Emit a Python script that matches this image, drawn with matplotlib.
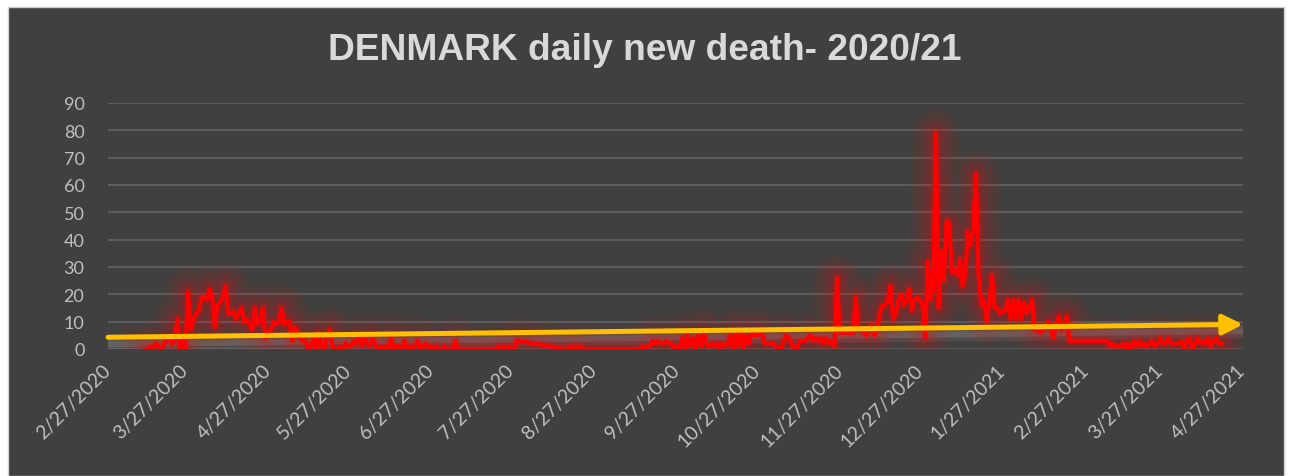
import numpy as np
import pandas as pd
import matplotlib
matplotlib.use('Agg')
import matplotlib.pyplot as plt
from matplotlib.patches import Rectangle
from matplotlib.transforms import offset_copy

# daily new deaths, first block starts 2020-03-12
block1_start = '2020-03-12'
block1_deaths = [0, 0, 1, 0, 2, 1, 0, 2, 3, 4, 2, 3,
                 11, 0, 3, 0, 21, 7, 11, 13, 14, 19, 19, 18, 22, 19,
                 8, 16, 17, 19, 23, 13, 13, 14, 11, 13, 15, 10, 11, 9,
                 7, 15, 9, 10, 15, 4, 6, 7, 10, 9, 10, 15, 9, 10,
                 10, 3, 8, 6, 4, 3, 3, 0, 1, 4, 0, 6, 1, 0, 5, 7, 1, 0,
                 0, 1, 0, 2, 1, 1, 3, 2, 4, 1, 4, 2, 1, 4, 2, 0, 1,
                 0, 1, 0, 4, 0, 1, 1, 0, 3, 0, 1, 0, 1, 3, 0, 1, 2, 0, 1, 0, 1, 0, 0, 1, 0, 0, 0, 3,
                 0, 0, 0, 0, 0, 0, 0, 0, 0, 0, 0, 0, 0, 0, 0,
                 1, 0, 1, 0, 1, 0, 0, 3, 3]

# second block (after the gap) starts 2020-08-16
block2_start = '2020-08-16'
block2_deaths = [0, 0, 1, 0, 1, 0, 1, 0] + [0] * 20 + \
                [0, 1, 0, 1, 1, 3, 2, 3, 2, 2, 3, 2, 2, 0, 1, 0, 4, 0, 5, 1,
                 4, 0, 5, 1, 6, 2, 1, 2, 1, 2, 0, 2, 1, 2, 5, 0, 6, 1, 6, 0,
                 5, 2, 6, 5, 5, 6, 5, 2, 2, 2, 2, 1, 0, 0,
                 3, 5, 4, 2, 0, 0, 3, 3, 3, 4, 5, 3, 4, 3,
                 4, 2, 4, 2, 3, 1, 26,
                 6, 6, 6, 6, 6, 6, 19, 7, 7, 6, 5, 7, 9, 5, 7,
                 13, 16, 16, 18, 23, 11, 13, 18, 20, 16, 18, 22, 14, 18, 19, 18, 16, 4, 32, 18, 22, 79,
                 15, 36, 25, 47, 46, 28, 29, 27, 33, 23, 27, 43, 38, 44, 64, 27, 16, 18, 10, 17, 27,
                 15, 15, 13, 14, 14, 18, 11, 18, 11, 18, 11, 17, 13, 15, 18, 7, 7, 6, 7, 8, 10, 7, 4, 9, 12, 7, 9, 12] + \
                [3] * 15 + \
                [1, 2, 1, 1, 1, 2, 0, 2, 0, 3, 1, 3, 1, 2, 1, 2, 3, 1, 2, 4, 2, 2, 4, 2, 2,
                 2, 2, 3, 0, 3, 4, 0, 2, 4, 2, 3, 2, 4, 1, 3, 4, 2, 2]

trend_dates = ['2020-02-27', '2021-04-27']
trend_values = [4.3, 9.0]

tick_dates = pd.date_range('2020-02-27', '2021-04-27', freq=pd.DateOffset(months=1))
tick_labels = [f'{d.month}/{d.day}/{d.year}' for d in tick_dates]
y_ticks = list(range(0, 100, 10))

dates = list(pd.date_range(block1_start, periods=len(block1_deaths))) + \
        list(pd.date_range(block2_start, periods=len(block2_deaths)))
deaths = block1_deaths + block2_deaths
trend_x = pd.to_datetime(trend_dates)

W, H = 1289, 477
fig = plt.figure(figsize=(W / 100, H / 100), dpi=100, facecolor='white')
fig.patches.append(Rectangle((8 / W, 0), (1284 - 8) / W, (H - 8) / H, transform=fig.transFigure,
                             facecolor='#404040', edgecolor='#d0d0d0', lw=1, zorder=-10))

ax = fig.add_axes([108 / W, 127 / H, 1135 / W, 246 / H])
ax.set_zorder(1)
ax.set_facecolor('none')
ax.set_xlim(tick_dates[0], tick_dates[-1])
ax.set_ylim(0, 90)
for s in ax.spines.values():
    s.set_visible(False)
ax.set_yticks(y_ticks)
ax.yaxis.grid(True, color='#5c5c5c', lw=1.5)
ax.set_axisbelow(True)
ax.set_xticks(tick_dates)
ax.set_xticklabels(tick_labels, rotation=45, ha='right', rotation_mode='anchor', va='center')
ax.tick_params(axis='both', length=0, colors='#bfbfbf', labelsize=13)
ax.tick_params(axis='x', labelsize=14, pad=13)
ax.tick_params(axis='y', pad=17)
for lab in ax.get_xticklabels() + ax.get_yticklabels():
    lab.set_family('Lato')

# grey shadow under the trend arrow
for dy, a in [(-5, 0.25), (-9, 0.15)]:
    tr = offset_copy(ax.transData, fig=fig, x=0, y=dy, units='dots')
    ax.plot(trend_x, trend_values, color='#a0a0a0', lw=7, alpha=a, transform=tr, zorder=2,
            solid_capstyle='butt')

# red glow + line
for lw, a in [(34, 0.06), (24, 0.08), (15, 0.1), (8, 0.15)]:
    ax.plot(dates, deaths, color='red', lw=lw, alpha=a, zorder=3, solid_joinstyle='round')
ax.plot(dates, deaths, color='#ff0000', lw=3.0, zorder=4, solid_joinstyle='round')

# trend arrow
ax.annotate('', xy=(trend_x[1], trend_values[1]), xytext=(trend_x[0], trend_values[0]),
            arrowprops=dict(arrowstyle='-|>,head_length=0.4,head_width=0.2', color='#ffc000',
                            lw=3.6, mutation_scale=30, shrinkA=0, shrinkB=0), zorder=5)

fig.text(0.5, 1 - 51 / H, 'DENMARK daily new death- 2020/21', ha='center', va='center',
         fontsize=26.7, fontweight='bold', color='#d9d9d9', family='Liberation Sans')

fig.savefig('out.png', dpi=100, facecolor='white')
